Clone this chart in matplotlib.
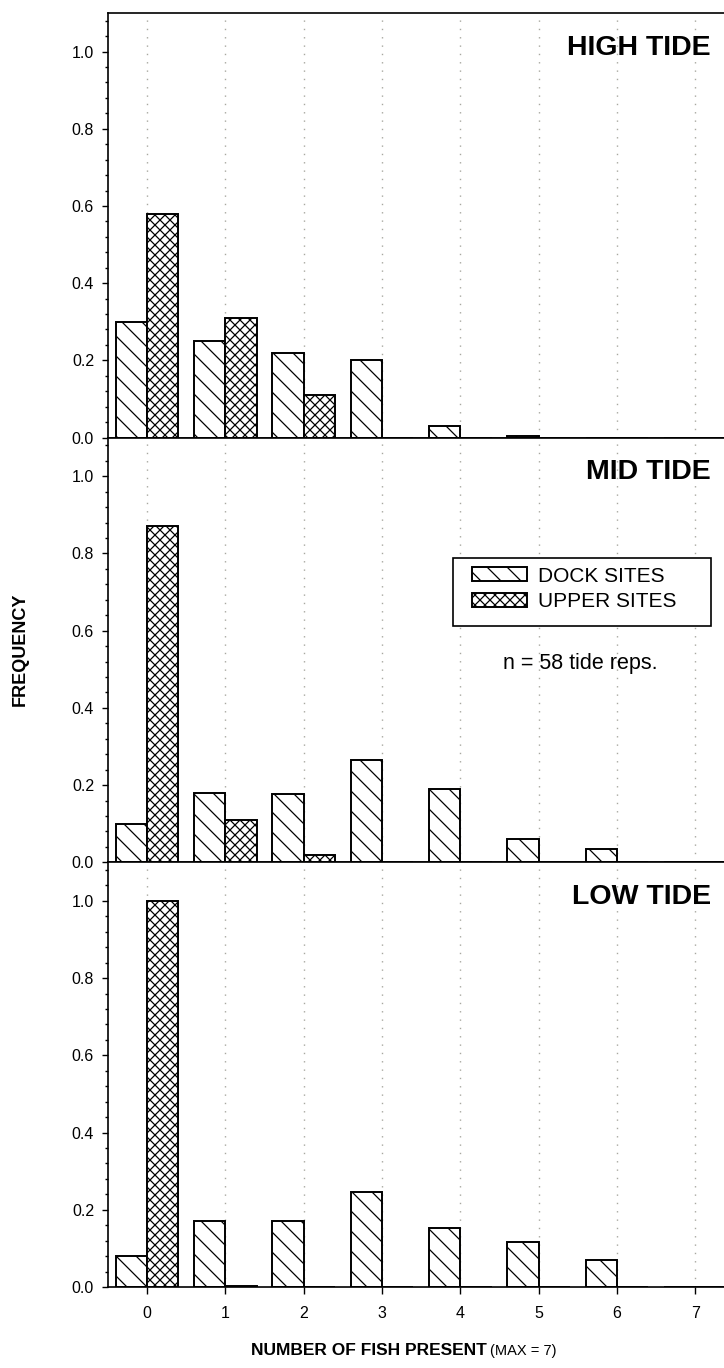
import matplotlib
matplotlib.use("Agg")
import matplotlib.pyplot as plt
from matplotlib.patches import Rectangle
from matplotlib.ticker import MultipleLocator, FormatStrFormatter

# render at 120 dpi so the hatch spacing matches; S converts sizes back
DPI = 120
S = 100 / DPI

plt.rcParams["font.family"] = ["Liberation Sans", "DejaVu Sans"]
plt.rcParams["hatch.linewidth"] = 0.9 * S

# number of fish present (x categories)
FISH = [0, 1, 2, 3, 4, 5, 6, 7]
PANEL_TITLES = ["HIGH TIDE", "MID TIDE", "LOW TIDE"]

# frequencies
HIGH_DOCK = [0.30, 0.25, 0.22, 0.20, 0.031, 0.004, 0.0, 0.0]
HIGH_UPPER = [0.58, 0.31, 0.11, 0.0, 0.0, 0.0, 0.0, 0.0]
MID_DOCK = [0.10, 0.18, 0.177, 0.264, 0.19, 0.06, 0.035, 0.0]
MID_UPPER = [0.87, 0.11, 0.02, 0.0, 0.0, 0.0, 0.0, 0.0]
LOW_DOCK = [0.08, 0.17, 0.17, 0.245, 0.153, 0.117, 0.07, 0.0]
LOW_UPPER = [1.0, 0.003, 0.0, 0.0, 0.0, 0.0, 0.0, 0.0]

DOCK = [HIGH_DOCK, MID_DOCK, LOW_DOCK]
UPPER = [HIGH_UPPER, MID_UPPER, LOW_UPPER]

W, H = 724, 1368
fig = plt.figure(figsize=(W / DPI, H / DPI), dpi=DPI)
fig.patch.set_facecolor("white")

left = 108 / W
width = 626.4 / W
ph = 424.7 / H
bottom0 = 1 - 1287 / H

axes = []
for i in range(3):
    b = bottom0 + (2 - i) * ph
    ax = fig.add_axes([left, b, width, ph])
    axes.append(ax)

bar_w = 0.4
for i, ax in enumerate(axes):
    dock_x = [f - bar_w / 2 for f in FISH]
    upper_x = [f + bar_w / 2 for f in FISH]
    hd = ax.bar(dock_x, DOCK[i], width=bar_w, facecolor="white",
                edgecolor="black", linewidth=1.4 * S, hatch="\\\\", label="DOCK SITES")
    hu = ax.bar(upper_x, UPPER[i], width=bar_w, facecolor="white",
                edgecolor="black", linewidth=1.4 * S, hatch="xxxx", label="UPPER SITES")

    ax.set_xlim(-0.5, 7.5)
    ax.set_ylim(0, 1.1)
    ax.set_xticks(FISH)
    ax.yaxis.set_major_locator(MultipleLocator(0.2))
    ax.yaxis.set_minor_locator(MultipleLocator(0.04))
    ax.yaxis.set_major_formatter(FormatStrFormatter("%.1f"))
    ax.tick_params(axis="y", which="major", direction="out", length=4 * S,
                   width=1 * S, pad=6 * S, labelsize=11.5 * S)
    ax.tick_params(axis="y", which="minor", direction="out", length=2 * S,
                   width=1 * S)
    ax.grid(axis="x", color="#a8a8a0", linestyle=(0, (1, 5)), linewidth=1 * S)
    ax.set_axisbelow(True)
    for s in ax.spines.values():
        s.set_linewidth(1.2 * S)
    if i < 2:
        ax.tick_params(axis="x", which="both", length=0, labelbottom=False)
    else:
        ax.tick_params(axis="x", direction="out", length=5 * S, width=1 * S,
                       pad=9 * S, labelsize=11.5 * S)

    ax.text(7.2, 1.01, PANEL_TITLES[i], ha="right", va="center",
            fontsize=20.5 * S, fontweight="bold")

    if i == 1:
        ax.add_patch(Rectangle((3.9, 0.611), 3.3, 0.177, facecolor="white",
                               edgecolor="black", linewidth=1.2 * S, zorder=4))
        leg = ax.legend(handles=[hd, hu], loc="upper left",
                        bbox_to_anchor=(4.15, 0.766),
                        bbox_transform=ax.transData,
                        fontsize=15 * S, frameon=False,
                        handlelength=2.64, handleheight=0.63,
                        borderpad=0, labelspacing=0.32, handletextpad=0.53,
                        borderaxespad=0)
        leg.set_zorder(5)
        ax.text(5.53, 0.516, "n = 58 tide reps.", ha="center", va="center",
                fontsize=15.5 * S)

fig.text(20 / W, 1 - 649 / H, "FREQUENCY", rotation=90, ha="center",
         va="center", fontsize=13 * S, fontweight="bold")
fig.text(487 / W, 1 - 1355 / H, "NUMBER OF FISH PRESENT", ha="right",
         va="baseline", fontsize=12.5 * S, fontweight="bold")
fig.text(490 / W, 1 - 1355 / H, "(MAX = 7)", ha="left", va="baseline",
         fontsize=10.5 * S)

fig.savefig("out.png", dpi=DPI, facecolor="white")
